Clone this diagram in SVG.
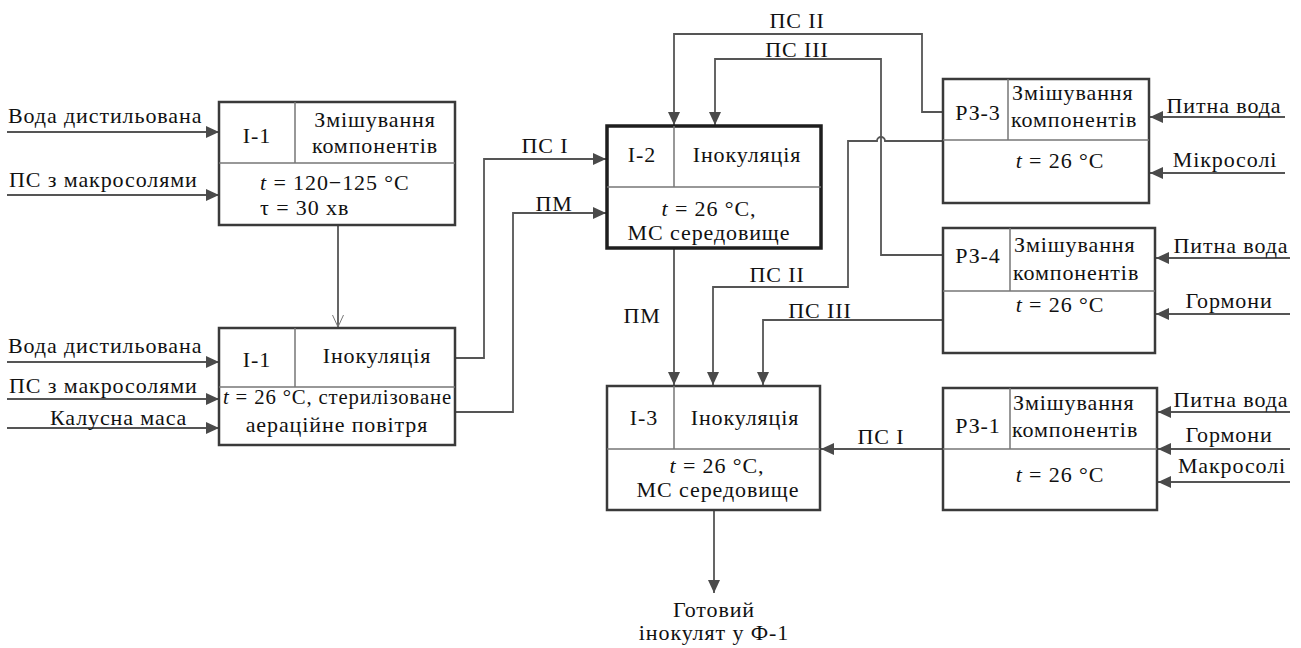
<svg xmlns="http://www.w3.org/2000/svg" width="1301" height="648" viewBox="0 0 1301 648">
<style>
text{font-family:"Liberation Serif","Times New Roman",serif;font-size:22px;letter-spacing:0.9px;fill:#111}
.m{text-anchor:middle}
.box{fill:#fff;stroke:#3a3a3a;stroke-width:2.5}
.bold{stroke:#1e1e1e;stroke-width:3.5}
.div{stroke:#777;stroke-width:1.5;fill:none}
.c{fill:none;stroke:#555;stroke-width:1.8}
.i{font-style:italic}
</style>
<defs>
<marker id="a" markerUnits="userSpaceOnUse" markerWidth="14" markerHeight="12" refX="13" refY="6" orient="auto">
<path d="M0,0 L13,6 L0,12 Z" fill="#4a4a4a"/>
</marker>
<marker id="o" markerUnits="userSpaceOnUse" markerWidth="14" markerHeight="12" refX="12" refY="6" orient="auto">
<path d="M0,0.5 L12,6 L0,11.5" fill="none" stroke="#777" stroke-width="1"/>
</marker>
</defs>
<rect width="1301" height="648" fill="#fff"/>

<g id="connectors">
<path class="c" d="M338,225 V327" marker-end="url(#o)"/>
<path class="c" d="M455,358 H484 V159 H606" marker-end="url(#a)"/>
<path class="c" d="M455,412 H513 V213 H606" marker-end="url(#a)"/>
<path class="c" d="M943,112 H922 V34 H674 V125" marker-end="url(#a)"/>
<path class="c" d="M943,255 H881 V59 H715 V125" marker-end="url(#a)"/>
<path class="c" d="M943,141 H885 A4,4 0 0 0 877,141 H848 V287 H713 V385" marker-end="url(#a)"/>
<path class="c" d="M943,320 H763 V385" marker-end="url(#a)"/>
<path class="c" d="M674,248 V385" marker-end="url(#a)"/>
<path class="c" d="M943,449 H821" marker-end="url(#a)"/>
<path class="c" d="M714,510 V593" marker-end="url(#a)"/>
<path class="c" d="M7,132 H219" marker-end="url(#a)"/>
<path class="c" d="M7,195 H219" marker-end="url(#a)"/>
<path class="c" d="M7,362 H219" marker-end="url(#a)"/>
<path class="c" d="M7,399 H219" marker-end="url(#a)"/>
<path class="c" d="M7,428 H219" marker-end="url(#a)"/>
<path class="c" d="M1285,117 H1150" marker-end="url(#a)"/>
<path class="c" d="M1285,173 H1150" marker-end="url(#a)"/>
<path class="c" d="M1290,258 H1156" marker-end="url(#a)"/>
<path class="c" d="M1290,314 H1156" marker-end="url(#a)"/>
<path class="c" d="M1290,412 H1158" marker-end="url(#a)"/>
<path class="c" d="M1290,449 H1158" marker-end="url(#a)"/>
<path class="c" d="M1290,482 H1158" marker-end="url(#a)"/>
<text class="m" x="797" y="28">ПС ІІ</text>
<text class="m" x="797" y="57">ПС ІІІ</text>
<text class="m" x="545" y="153">ПС І</text>
<text class="m" x="554" y="211">ПМ</text>
<text class="m" x="642" y="323">ПМ</text>
<text class="m" x="777" y="282">ПС ІІ</text>
<text class="m" x="820" y="318">ПС ІІІ</text>
<text class="m" x="881" y="444">ПС І</text>
<text x="8" y="123">Вода дистильована</text>
<text x="9" y="187">ПС з макросолями</text>
<text x="8" y="353">Вода дистильована</text>
<text x="9" y="393">ПС з макросолями</text>
<text x="50" y="425">Калусна маса</text>
<text class="m" x="1224" y="113">Питна вода</text>
<text class="m" x="1225" y="167">Мікросолі</text>
<text class="m" x="1231" y="253">Питна вода</text>
<text class="m" x="1229" y="308">Гормони</text>
<text class="m" x="1231" y="407">Питна вода</text>
<text class="m" x="1229" y="442">Гормони</text>
<text class="m" x="1232" y="473">Макросолі</text>
<text class="m" x="714" y="617">Готовий</text>
<text class="m" x="714" y="640">інокулят у Ф-1</text>
</g>

<g id="node-i1-mix">
<rect class="box" x="219" y="102" width="236" height="123"/>
<path class="div" d="M219,163 H455 M295,102 V163"/>
<text class="m" x="257" y="143">І-1</text>
<text class="m" x="375" y="127">Змішування</text>
<text class="m" x="375" y="153">компонентів</text>
<text x="260" y="190"><tspan class="i">t</tspan> = 120−125 °C</text>
<text x="260" y="215">τ = 30 хв</text>
</g>

<g id="node-i1-inoc">
<rect class="box" x="219" y="328" width="236" height="117"/>
<path class="div" d="M219,387 H455 M295,328 V387"/>
<text class="m" x="257" y="367">І-1</text>
<text class="m" x="377" y="363">Інокуляція</text>
<text x="223" y="404" letter-spacing="0" textLength="229" lengthAdjust="spacingAndGlyphs"><tspan class="i">t</tspan> = 26 °C, стерилізоване</text>
<text class="m" x="337" y="432">аераційне повітря</text>
</g>

<g id="node-i2">
<rect class="box bold" x="607" y="126" width="214" height="122"/>
<path class="div" d="M607,187 H821 M674,126 V187"/>
<text class="m" x="642" y="162">І-2</text>
<text class="m" x="747" y="162">Інокуляція</text>
<text class="m" x="709" y="216"><tspan class="i">t</tspan> = 26 °C,</text>
<text class="m" x="709" y="240">МС середовище</text>
</g>

<g id="node-i3">
<rect class="box" x="607" y="386" width="213" height="124"/>
<path class="div" d="M607,449 H820 M674,386 V449"/>
<text class="m" x="644" y="425">І-3</text>
<text class="m" x="745" y="425">Інокуляція</text>
<text class="m" x="717" y="473"><tspan class="i">t</tspan> = 26 °C,</text>
<text class="m" x="718" y="497">МС середовище</text>
</g>

<g id="node-rz3">
<rect class="box" x="943" y="79" width="206" height="124"/>
<path class="div" d="M943,140 H1149 M1008,79 V140"/>
<text class="m" x="978" y="120">РЗ-3</text>
<text x="1012" y="100">Змішування</text>
<text x="1011" y="127">компонентів</text>
<text class="m" x="1060" y="168"><tspan class="i">t</tspan> = 26 °C</text>
</g>

<g id="node-rz4">
<rect class="box" x="943" y="228" width="212" height="125"/>
<path class="div" d="M943,291 H1155 M1010,228 V291"/>
<text class="m" x="978" y="263">РЗ-4</text>
<text x="1014" y="252">Змішування</text>
<text x="1013" y="280">компонентів</text>
<text class="m" x="1060" y="312"><tspan class="i">t</tspan> = 26 °C</text>
</g>

<g id="node-rz1">
<rect class="box" x="943" y="388" width="214" height="122"/>
<path class="div" d="M943,449 H1157 M1010,388 V449"/>
<text class="m" x="978" y="433">РЗ-1</text>
<text x="1013" y="410">Змішування</text>
<text x="1012" y="437">компонентів</text>
<text class="m" x="1060" y="482"><tspan class="i">t</tspan> = 26 °C</text>
</g>
</svg>
